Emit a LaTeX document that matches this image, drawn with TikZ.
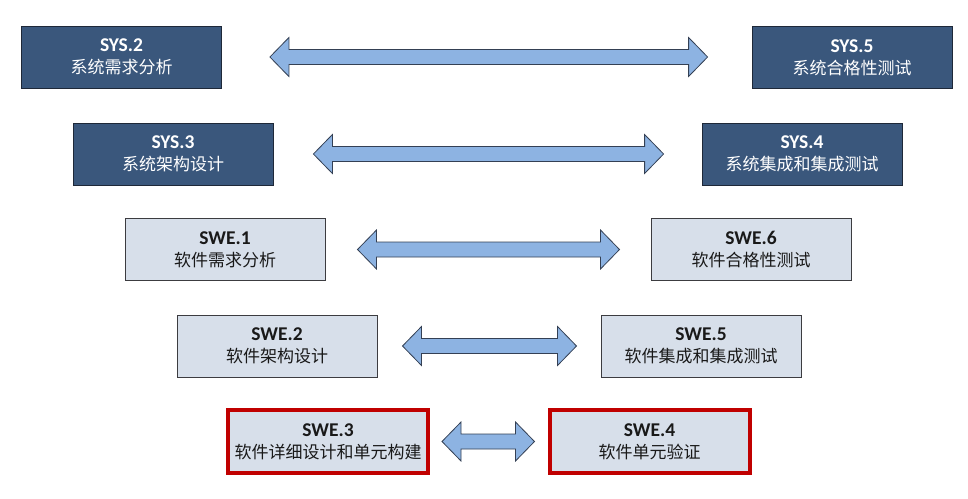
\documentclass[tikz,border=0pt]{standalone}
\usepackage{fontspec}
\setmainfont{Carlito}
\newfontfamily\cjk{Noto Sans CJK SC}
\usetikzlibrary{calc}
\definecolor{darkfill}{RGB}{58,87,124}
\definecolor{darkline}{RGB}{30,40,56}
\definecolor{lightfill}{RGB}{215,223,234}
\definecolor{lightline}{RGB}{60,60,64}
\definecolor{redline}{RGB}{192,0,0}
\definecolor{arrowfill}{RGB}{141,179,226}
\definecolor{arrowline}{RGB}{52,64,84}
\tikzset{
  basebox/.style={rectangle, minimum width=200pt, minimum height=62pt, inner sep=0pt, align=center,
    font=\fontsize{19.5}{22}\selectfont\bfseries},
  sysbox/.style={basebox, fill=darkfill, draw=darkline, line width=0.8pt, text=white},
  swebox/.style={basebox, fill=lightfill, draw=lightline, line width=1pt, text=black!90},
  redbox/.style={basebox, fill=lightfill, draw=redline, line width=4pt, minimum width=200pt, minimum height=63pt, text=black!90},
  barrow/.style={fill=arrowfill, draw=arrowline, line width=0.8pt, line join=miter}
}
\newcommand{\zh}[1]{{\cjk\mdseries\fontsize{17}{22}\selectfont #1}}
\newcommand{\dblarrow}[2]{%
  \draw[barrow] (#1) -- ++(19,-19.5) -- ++(0,12) -- ($(#2)+(-19,-7.5)$) -- ++(0,-12) -- (#2)
    -- ++(-19,19.5) -- ++(0,-12) -- ($(#1)+(19,7.5)$) -- ++(0,12) -- cycle;}
\begin{document}
\begin{tikzpicture}[x=1pt,y=-1pt]
\useasboundingbox (0,0) rectangle (968,498);
% row 1
\node[sysbox] (sys2) at (121.5,57) {SYS.2\\\zh{系统需求分析}};
\node[sysbox] (sys5) at (852,57.5) {SYS.5\\\zh{系统合格性测试}};
% row 2
\node[sysbox] (sys3) at (173,154) {SYS.3\\\zh{系统架构设计}};
\node[sysbox] (sys4) at (802,154) {SYS.4\\\zh{系统集成和集成测试}};
% row 3
\node[swebox] (swe1) at (225,249.5) {SWE.1\\\zh{软件需求分析}};
\node[swebox] (swe6) at (751,249.5) {SWE.6\\\zh{软件合格性测试}};
% row 4
\node[swebox] (swe2) at (277,346) {SWE.2\\\zh{软件架构设计}};
\node[swebox] (swe5) at (701,346) {SWE.5\\\zh{软件集成和集成测试}};
% row 5
\node[redbox] (swe3) at (328,441.5) {SWE.3\\\zh{软件详细设计和单元构建}};
\node[redbox] (swe4) at (649.5,441.5) {SWE.4\\\zh{软件单元验证}};
% arrow ends
\coordinate (a1) at ($(sys2.east)+(48,0)$);  \coordinate (b1) at ($(sys5.west)+(-44,-0.5)$);
\coordinate (a2) at ($(sys3.east)+(40,0)$);  \coordinate (b2) at ($(sys4.west)+(-38,0)$);
\coordinate (a3) at ($(swe1.east)+(32,0)$);  \coordinate (b3) at ($(swe6.west)+(-31,0)$);
\coordinate (a4) at ($(swe2.east)+(25,0)$);  \coordinate (b4) at ($(swe5.west)+(-24,0)$);
\coordinate (a5) at ($(swe3.east)+(12,0)$);  \coordinate (b5) at ($(swe4.west)+(-13,0)$);
\dblarrow{a1}{b1}
\dblarrow{a2}{b2}
\dblarrow{a3}{b3}
\dblarrow{a4}{b4}
\dblarrow{a5}{b5}
\end{tikzpicture}
\end{document}
